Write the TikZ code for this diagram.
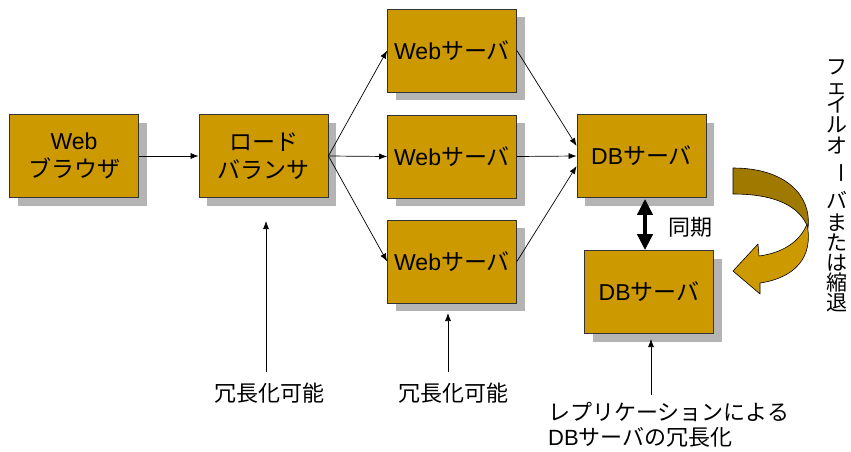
\documentclass[tikz,border=0pt]{standalone}
\usepackage{fontspec}
\setmainfont{Liberation Sans}
\newfontfamily\jp{Noto Sans CJK JP}
\usetikzlibrary{arrows.meta,shadows,calc}
\definecolor{boxgold}{HTML}{CC9900}
\definecolor{boxdark}{HTML}{A07A00}
\definecolor{shadowgray}{HTML}{B4B4B4}

\begin{document}
\begin{tikzpicture}[x=1pt,y=-1pt,
  server/.style={draw=black!80, line width=0.8pt, fill=boxgold,
    minimum width=129pt, minimum height=83pt, inner sep=0pt, align=center,
    font=\fontsize{23}{28}\selectfont,
    drop shadow={shadow xshift=8pt, shadow yshift=-8pt, fill=shadowgray, opacity=1}},
  link/.style={line width=0.7pt, -{Latex[length=8pt,width=6pt]}},
  sync/.style={line width=4.5pt, {Triangle[length=16pt,width=15pt]}-{Triangle[length=16pt,width=15pt]}},
  note/.style={font=\fontsize{22}{25}\selectfont\jp, align=left, inner sep=0pt},
  vchar/.style={font=\fontsize{21}{21}\selectfont\jp, inner sep=0pt,
    text height=0.7em, text depth=0pt},
  ribbon/.style={draw=black, line width=0.6pt, line join=round}]

\useasboundingbox (0,0) rectangle (851,452);

% servers and the load balancer
\node[server] (br)  at (74,156)    {Web\\{\jp ブラウザ}};
\node[server] (lb)  at (263.5,156) {{\jp ロード}\\{\jp バランサ}};
\node[server] (w1)  at (452,50.5)  {Web{\jp サーバ}};
\node[server] (w2)  at (452,156.5) {Web{\jp サーバ}};
\node[server] (w3)  at (452,261.5) {Web{\jp サーバ}};
\node[server] (db1) at (641.5,156) {DB{\jp サーバ}};
\node[server] (db2) at (649,292)   {DB{\jp サーバ}};

% request flow
\draw[link] (br) -- (lb);
\draw[link] (lb.east) -- (w1.west);
\draw[link] (lb.east) -- (w2.west);
\draw[link] (lb.east) -- (w3.west);
\draw[link] (w1.east) -- ($(db1.west)+(0,-10)$);
\draw[link] (w2.east) -- (db1.west);
\draw[link] (w3.east) -- ($(db1.west)+(0,10)$);

% replication between the DB servers
\coordinate (syA) at ($(db1.south)+(3.5,1)$);
\coordinate (syB) at (syA |- db2.north);
\draw[sync] (syA) -- (syB);
\node[font=\fontsize{22}{22}\selectfont\jp, inner sep=0pt] (synclbl) at (690,227) {同期};

% failover arrow
\draw[ribbon, fill=boxdark]
  (733,168) .. controls (786,168) and (812,196) .. (808,228)
  .. controls (800,206) and (775,194) .. (733,194) -- cycle;
\draw[ribbon, fill=boxgold]
  (807,224) .. controls (800,242) and (782,253) .. (759,256)
  -- (758,244) -- (733,271) -- (760,294) -- (760,283)
  .. controls (794,278) and (814,258) .. (807,224) -- cycle;

% vertical caption of the failover arrow, one character per node
\foreach \ch/\yy [count=\i] in {フ/71, ェ/91, イ/109, ル/129, オ/150}
  \node[vchar] (fo\i) at (837,\yy) {\ch};
\node[vchar, rotate=-90] (fo6) at (837,173) {ー};
\foreach \ch/\yy [count=\i from 7] in {バ/205, ま/227, た/247, は/267, 縮/287, 退/307}
  \node[vchar] (fo\i) at (837,\yy) {\ch};

% annotations
\node[note] (n1) at (269.5,393) {冗長化可能};
\node[note] (n2) at (453.5,393) {冗長化可能};
\node[note, anchor=west] (n3) at (548,424.5) {レプリケーションによる\\{\rmfamily DB}サーバの冗長化};

\coordinate (u1a) at (266,372); \coordinate (u1b) at (266,221);
\coordinate (u2a) at (448,372); \coordinate (u2b) at (448,313);
\coordinate (u3a) at (651,395); \coordinate (u3b) at (651,339);
\draw[link] (u1a) -- (u1b);
\draw[link] (u2a) -- (u2b);
\draw[link] (u3a) -- (u3b);
\end{tikzpicture}
\end{document}
